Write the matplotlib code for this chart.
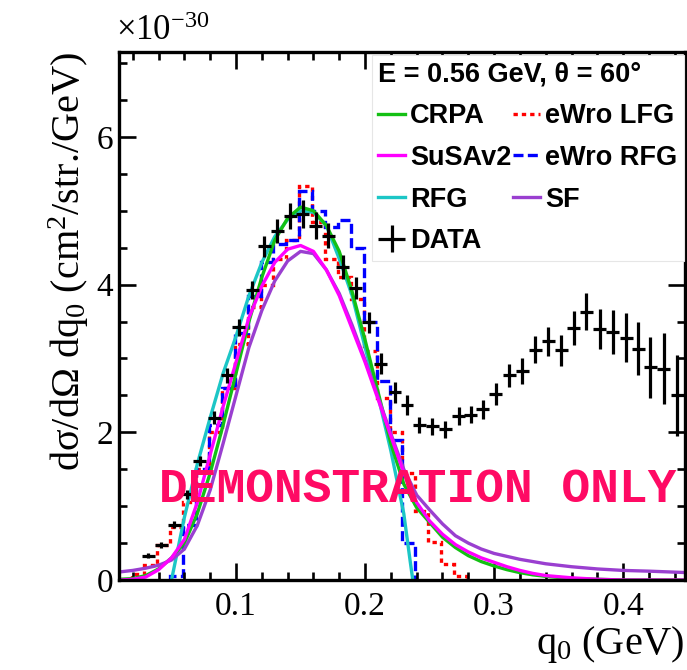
import matplotlib
matplotlib.use("Agg")
import matplotlib.pyplot as plt
from matplotlib.ticker import MultipleLocator

plt.rcParams["font.family"] = ["Liberation Serif", "DejaVu Serif"]
plt.rcParams["mathtext.fontset"] = "custom"
plt.rcParams["mathtext.rm"] = "Liberation Serif"
plt.rcParams["mathtext.it"] = "Liberation Serif:italic"

# ---- data (units of 1e-30 cm^2/str./GeV) ----
q_data = [0.032, 0.042, 0.052, 0.062, 0.072, 0.083, 0.093, 0.102, 0.1125, 0.122,
          0.132, 0.142, 0.1516, 0.1617, 0.1716, 0.1826, 0.1928, 0.2029, 0.2122, 0.2232,
          0.2325, 0.242, 0.2522, 0.2623, 0.2725, 0.282, 0.2913, 0.3014, 0.3116, 0.3217,
          0.3319, 0.342, 0.3522, 0.3617, 0.3716, 0.382, 0.3919, 0.4023, 0.4116, 0.4209,
          0.4313, 0.442]
xs_data = [0.33, 0.48, 0.75, 1.16, 1.61, 2.20, 2.77, 3.42, 3.93, 4.52,
           4.73, 4.93, 4.95, 4.80, 4.66, 4.24, 3.95, 3.49, 2.93, 2.54,
           2.37, 2.10, 2.08, 2.04, 2.22, 2.24, 2.31, 2.52, 2.77, 2.83,
           3.12, 3.23, 3.11, 3.41, 3.63, 3.40, 3.36, 3.28, 3.13, 2.88,
           2.86, 2.50]
err_data = [0.03, 0.04, 0.05, 0.06, 0.07, 0.09, 0.10, 0.11, 0.12, 0.14,
            0.16, 0.18, 0.19, 0.18, 0.17, 0.16, 0.15, 0.14, 0.14, 0.14,
            0.13, 0.11, 0.11, 0.12, 0.12, 0.12, 0.13, 0.15, 0.16, 0.17,
            0.18, 0.20, 0.21, 0.23, 0.25, 0.27, 0.30, 0.33, 0.36, 0.41,
            0.48, 0.55]
bin_half = 0.005

q_crpa = [0.01, 0.02, 0.03, 0.04, 0.05, 0.06, 0.07, 0.08, 0.09, 0.10, 0.11, 0.12,
          0.13, 0.14, 0.15, 0.16, 0.17, 0.18, 0.19, 0.20, 0.21, 0.22, 0.23, 0.24,
          0.25, 0.26, 0.27, 0.28, 0.29, 0.30, 0.31, 0.32, 0.33, 0.34, 0.36, 0.38,
          0.40, 0.45]
xs_crpa = [0.01, 0.02, 0.06, 0.15, 0.30, 0.50, 0.90, 1.45, 2.10, 2.80, 3.50, 4.10,
           4.60, 4.90, 5.05, 5.00, 4.80, 4.45, 3.90, 3.25, 2.55, 1.85, 1.30, 0.98,
           0.78, 0.58, 0.44, 0.33, 0.25, 0.19, 0.14, 0.10, 0.07, 0.05, 0.02, 0.01,
           0.0, 0.0]

q_susa = [0.01, 0.02, 0.03, 0.04, 0.05, 0.06, 0.07, 0.08, 0.09, 0.10, 0.11, 0.12,
          0.13, 0.14, 0.15, 0.16, 0.17, 0.18, 0.19, 0.20, 0.21, 0.22, 0.23, 0.24,
          0.25, 0.26, 0.27, 0.28, 0.29, 0.30, 0.31, 0.32, 0.33, 0.34, 0.36, 0.38,
          0.40, 0.45]
xs_susa = [0.0, 0.01, 0.04, 0.14, 0.30, 0.55, 1.05, 1.70, 2.35, 2.95, 3.55, 3.98,
           4.30, 4.48, 4.53, 4.45, 4.20, 3.85, 3.40, 2.95, 2.45, 1.95, 1.45, 1.05,
           0.80, 0.62, 0.48, 0.38, 0.30, 0.24, 0.18, 0.13, 0.09, 0.06, 0.03, 0.01,
           0.0, 0.0]

q_rfg = [0.050, 0.06, 0.07, 0.08, 0.09, 0.10, 0.11, 0.12, 0.13, 0.14, 0.15, 0.16,
         0.17, 0.18, 0.19, 0.20, 0.21, 0.22, 0.23, 0.235, 0.237]
xs_rfg = [0.0, 0.85, 1.57, 2.20, 2.80, 3.30, 3.85, 4.30, 4.65, 4.88, 5.00, 4.98,
          4.80, 4.35, 3.85, 3.15, 2.50, 1.75, 0.90, 0.25, 0.0]

q_sf = [0.01, 0.02, 0.03, 0.04, 0.05, 0.06, 0.07, 0.08, 0.09, 0.10, 0.11, 0.12,
        0.13, 0.14, 0.15, 0.16, 0.17, 0.18, 0.19, 0.20, 0.21, 0.22, 0.23, 0.24,
        0.25, 0.26, 0.27, 0.28, 0.29, 0.30, 0.32, 0.34, 0.36, 0.38, 0.40, 0.42,
        0.45]
xs_sf = [0.11, 0.13, 0.16, 0.20, 0.27, 0.42, 0.74, 1.22, 1.85, 2.50, 3.15, 3.65,
         4.05, 4.32, 4.45, 4.42, 4.20, 3.88, 3.45, 2.98, 2.48, 1.98, 1.50, 1.15,
         0.95, 0.76, 0.60, 0.50, 0.42, 0.36, 0.28, 0.22, 0.18, 0.15, 0.13, 0.12,
         0.10]

edges_lfg = [0.019, 0.029, 0.039, 0.049, 0.059, 0.069, 0.079, 0.089, 0.099, 0.109,
             0.119, 0.129, 0.139, 0.149, 0.159, 0.169, 0.179, 0.189, 0.199, 0.209,
             0.219, 0.229, 0.239, 0.249, 0.259, 0.269, 0.279]
xs_lfg = [0.08, 0.20, 0.47, 0.72, 1.05, 1.50, 2.00, 2.60, 3.20, 3.70, 4.00, 4.35,
          4.60, 5.33, 4.85, 4.35, 4.10, 3.80, 3.10, 2.47, 2.00, 1.45, 0.93, 0.52,
          0.22, 0.05]

edges_wrfg = [0.049, 0.059, 0.069, 0.079, 0.089, 0.099, 0.109, 0.119, 0.129, 0.139,
              0.149, 0.159, 0.169, 0.179, 0.189, 0.199, 0.209, 0.219, 0.229, 0.239]
xs_wrfg = [0.05, 0.75, 1.50, 2.10, 2.60, 3.35, 3.85, 4.30, 4.55, 4.60,
           5.27, 5.00, 4.78, 4.88, 4.50, 3.50, 2.70, 1.90, 0.50]

fig = plt.figure(figsize=(6.87, 6.70), dpi=100)
ax = fig.add_axes([0.1732, 0.1343, 0.8240, 0.7881])

lw = 2.4
h_lfg = ax.stairs(xs_lfg, edges_lfg, baseline=0, color="#ff0000", lw=lw,
                  linestyle=(0, (1.3, 1.2)), label="eWro LFG")
h_wrfg = ax.stairs(xs_wrfg, edges_wrfg, baseline=0, color="#0000ff", lw=lw,
                   linestyle=(0, (3, 1.3)), label="eWro RFG")
h_rfg, = ax.plot(q_rfg, xs_rfg, color="#1cc6c6", lw=lw, label="RFG")
h_crpa, = ax.plot(q_crpa, xs_crpa, color="#14c014", lw=lw, label="CRPA")
h_sf, = ax.plot(q_sf, xs_sf, color="#9a3fd0", lw=lw, label="SF")
h_susa, = ax.plot(q_susa, xs_susa, color="#ff00ff", lw=lw, label="SuSAv2")
h_data = ax.errorbar(q_data, xs_data, yerr=err_data, xerr=bin_half, fmt="none",
                     ecolor="black", elinewidth=2.3, capsize=0, label="DATA")

ax.set_xlim(0.0093, 0.448)
ax.set_ylim(0, 7.15)
ax.xaxis.set_major_locator(MultipleLocator(0.1))
ax.xaxis.set_minor_locator(MultipleLocator(0.02))
ax.yaxis.set_major_locator(MultipleLocator(2))
ax.yaxis.set_minor_locator(MultipleLocator(0.5))
ax.tick_params(which="both", direction="in", top=True, right=True, width=1.9,
               labelsize=24)
ax.tick_params(which="major", length=12)
ax.tick_params(which="minor", length=6)
ax.tick_params(axis="x", pad=8)
ax.tick_params(axis="y", pad=4)
for s in ax.spines.values():
    s.set_linewidth(2.4)

ax.set_xlabel("q$_0$ (GeV)", fontsize=29, loc="right", labelpad=2)
ax.set_ylabel("d\u03c3/d\u03a9 dq$_0$ (cm$^2$/str./GeV)", fontsize=29, loc="top",
              labelpad=4)
ax.text(-0.005, 1.008, "\u00d710$^{-30}$", transform=ax.transAxes, fontsize=25,
        ha="left", va="bottom")

handles = [h_crpa, h_susa, h_rfg, h_data, h_lfg, h_wrfg, h_sf]
leg = ax.legend(handles=handles, labels=[h.get_label() for h in handles], ncol=2,
                loc="upper right", bbox_to_anchor=(0.998, 0.995), borderaxespad=0,
                title="E = 0.56 GeV, \u03b8 = 60\u00b0", alignment="left",
                prop={"family": "Liberation Sans", "weight": "bold", "size": 19.5},
                title_fontproperties={"family": "Liberation Sans", "weight": "bold",
                                      "size": 19.5},
                handlelength=1.0, handletextpad=0.18, columnspacing=0.05,
                labelspacing=0.58, borderpad=0.25, fancybox=False, framealpha=1,
                edgecolor="#e6e6e6")
leg.get_frame().set_linewidth(0.8)

ax.text(0.528, 0.172, "DEMONSTRATION ONLY", transform=ax.transAxes,
        family="Liberation Mono", weight="bold", fontsize=34.5, color="#ff0a64",
        ha="center", va="center", zorder=10)

fig.savefig("out.png", dpi=100)
